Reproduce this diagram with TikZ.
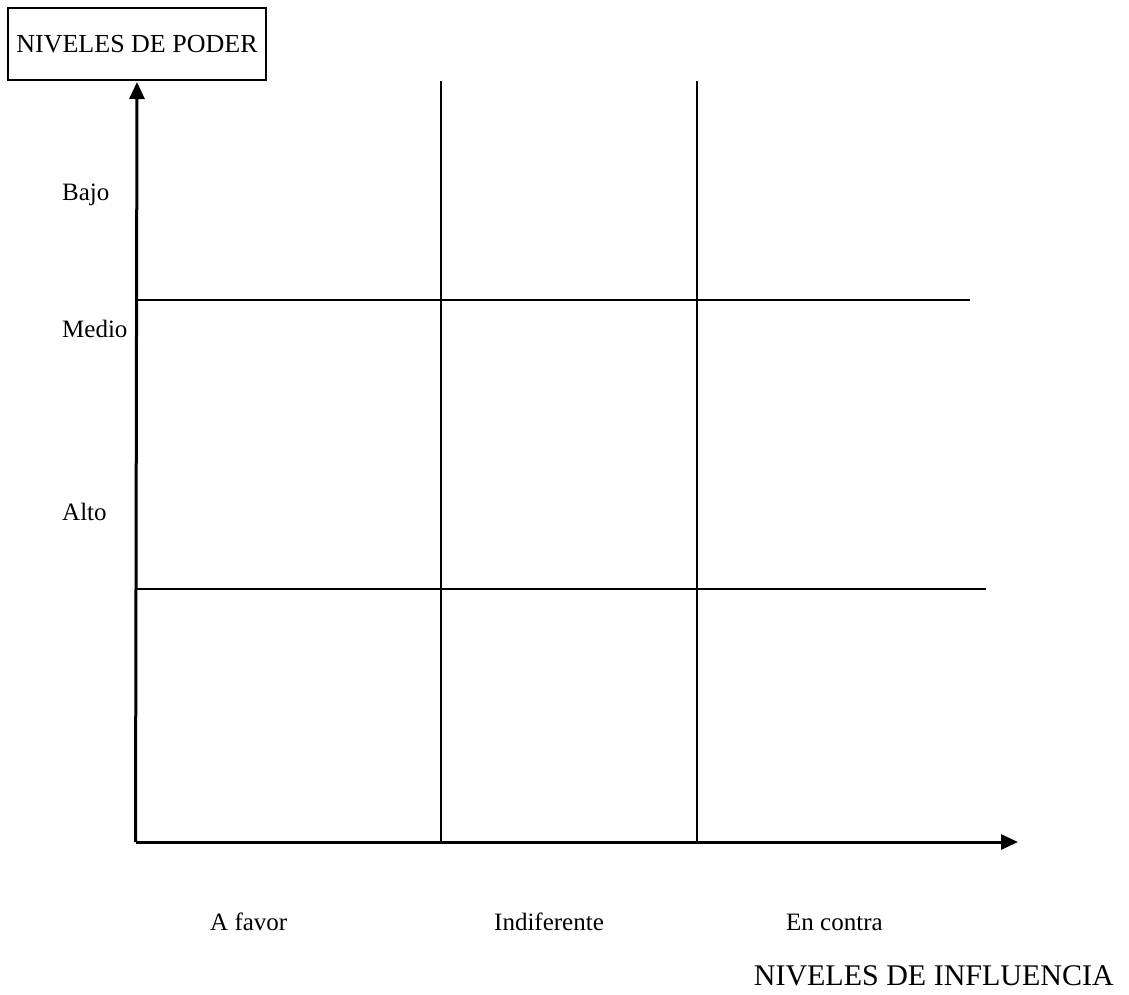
\documentclass[tikz,border=0pt]{standalone}
\usepackage{fontspec}
\setmainfont{Liberation Serif}
\usepackage{tikz}
\usetikzlibrary{arrows.meta}
\tikzset{
    title-box/.style = {draw=black, line width=2pt, fill=white, rectangle, minimum width=258pt, minimum height=72pt, inner sep=0pt, font=\fontsize{26}{30}\selectfont},
    axis-line/.style = {line width=3pt, -{Triangle[length=17pt,width=15pt]}},
    grid-line/.style = {line width=1.8pt},
    level-label/.style = {anchor=base west, inner sep=0pt, font=\fontsize{25}{30}\selectfont},
}

\begin{document}
\begin{tikzpicture}[x=1pt,y=-1pt]
\useasboundingbox (0,0) rectangle (1129,994);
\node [title-box] (title) at (137,44) {NIVELES DE PODER};
% axes
\coordinate (origin) at (137,842);
\coordinate (ytop) at (137,82);
\coordinate (xend) at (1018,842);
% grid
\coordinate (v1top) at (441,81);
\coordinate (v1bot) at (441,842);
\coordinate (v2top) at (697,81);
\coordinate (v2bot) at (697,842);
\coordinate (h1left) at (137,300);
\coordinate (h1right) at (970,300);
\coordinate (h2left) at (137,589);
\coordinate (h2right) at (986,589);
\draw [grid-line] (v1top) -- (v1bot);
\draw [grid-line] (v2top) -- (v2bot);
\draw [grid-line] (h1left) -- (h1right);
\draw [grid-line] (h2left) -- (h2right);
\draw [axis-line] ([xshift=-1.5pt]origin) -- (ytop);
\draw [axis-line] ([xshift=-1.5pt]origin) -- (xend);
% labels
\node [level-label] (bajo) at (62,200) {Bajo};
\node [level-label] (medio) at (62,337) {Medio};
\node [level-label] (alto) at (62,520) {Alto};
\node [level-label] (afavor) at (210,930) {A favor};
\node [level-label] (indif) at (494,930) {Indiferente};
\node [level-label] (encontra) at (786,930) {En contra};
\node [anchor=base east, inner sep=0pt, font=\fontsize{30}{36}\selectfont] (influencia) at (1114,985) {NIVELES DE INFLUENCIA};
\end{tikzpicture}
\end{document}
